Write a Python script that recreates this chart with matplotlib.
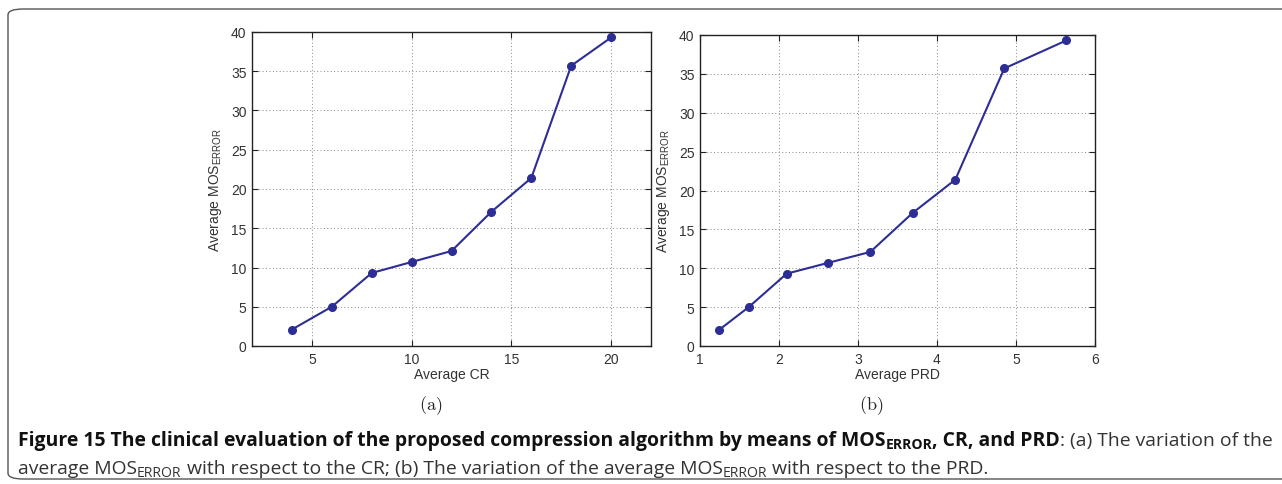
import numpy as np
import matplotlib
matplotlib.use("Agg")
import matplotlib.pyplot as plt
from matplotlib.patches import FancyBboxPatch

# data
cr = [4, 6, 8, 10, 12, 14, 16, 18, 20]
prd = [1.245, 1.616, 2.097, 2.624, 3.156, 3.69, 4.232, 4.852, 5.637]
mos_error = [2.1, 5.0, 9.3, 10.7, 12.1, 17.1, 21.4, 35.7, 39.3]

cr_ticks = [5, 10, 15, 20]
prd_ticks = [1, 2, 3, 4, 5, 6]
y_ticks = [0, 5, 10, 15, 20, 25, 30, 35, 40]

line_color = "#2d2d96"

plt.rcParams['font.family'] = ['Liberation Sans', 'DejaVu Sans']
plt.rcParams['mathtext.fontset'] = 'custom'
plt.rcParams['mathtext.rm'] = 'Liberation Sans'

W, H = 1282, 485
fig = plt.figure(figsize=(W / 100, H / 100), dpi=100)


def box(x0, y0, x1, y1):
    # pixel box (top-left origin) -> figure fraction
    return [x0 / W, 1 - y1 / H, (x1 - x0) / W, (y1 - y0) / H]


def style_axes(ax):
    ax.grid(True, linestyle=(0, (1, 2.5)), color="#888888", linewidth=0.7)
    ax.tick_params(direction="in", top=True, right=True, labelsize=10,
                   length=4, width=0.8, pad=4, labelcolor="#333333",
                   color="#222222")
    for s in ax.spines.values():
        s.set_linewidth(1.0)
        s.set_color("#222222")
    ax.set_ylim(0, 40)
    ax.set_yticks(y_ticks)
    ax.set_ylabel("Average MOS$_{\\mathrm{ERROR}}$", fontsize=10, labelpad=5,
                  color="#333333")


ax1 = fig.add_axes(box(252, 33, 651, 347))
ax1.plot(cr, mos_error, "-o", color=line_color, lw=1.5, ms=5.5)
ax1.set_xlim(2, 22)
ax1.set_xticks(cr_ticks)
ax1.set_xlabel("Average CR", fontsize=10, labelpad=1, color="#333333")
style_axes(ax1)

ax2 = fig.add_axes(box(700, 36, 1095, 347))
ax2.plot(prd, mos_error, "-o", color=line_color, lw=1.5, ms=5.5)
ax2.set_xlim(1, 6)
ax2.set_xticks(prd_ticks)
ax2.set_xlabel("Average PRD", fontsize=10, labelpad=1, color="#333333")
style_axes(ax2)

# sub-figure labels (LaTeX look)
fig.text(431 / W, 1 - 406 / H, r"$\mathrm{(a)}$", ha="center", va="center",
         fontsize=13, math_fontfamily="cm", color="#222222")
fig.text(871 / W, 1 - 406 / H, r"$\mathrm{(b)}$", ha="center", va="center",
         fontsize=13, math_fontfamily="cm", color="#222222")

# rounded frame around the figure
frame = FancyBboxPatch((8 / W, 5 / H), 1.1, (H - 15) / H,
                       boxstyle="round,pad=0,rounding_size=0.012",
                       transform=fig.transFigure, fill=False,
                       edgecolor="#555555", linewidth=1.0, clip_on=False)
fig.patches.append(frame)

# caption, written piece by piece
cap_font = ['Open Sans', 'DejaVu Sans']
renderer = fig.canvas.get_renderer()


def write_line(pieces, x, y, size):
    for txt, bold, sub in pieces:
        fs = size * 0.72 if sub else size
        yy = y + 3.5 if sub else y
        t = fig.text(x / W, 1 - yy / H, txt, fontsize=fs, family=cap_font,
                     fontweight="bold" if bold else "normal",
                     ha="left", va="baseline",
                     color="#111111" if bold else "#333333")
        x += t.get_window_extent(renderer).width
    return x


line1 = [
    ("Figure 15 The clinical evaluation of the proposed compression algorithm by means of MOS", True, False),
    ("ERROR", True, True),
    (", CR, and PRD", True, False),
    (": (a) The variation of the", False, False),
]
line2 = [
    ("average MOS", False, False),
    ("ERROR", False, True),
    (" with respect to the CR; (b) The variation of the average MOS", False, False),
    ("ERROR", False, True),
    (" with respect to the PRD.", False, False),
]

# measure first line to fit the width of the reference caption
probe = plt.figure(figsize=(W / 100, H / 100), dpi=100)
pr = probe.canvas.get_renderer()
wsum = 0
for txt, bold, sub in line1:
    t = probe.text(0, 0, txt, fontsize=10 * (0.72 if sub else 1), family=cap_font,
                   fontweight="bold" if bold else "normal")
    wsum += t.get_window_extent(pr).width
plt.close(probe)
cap_size = 10 * (1275 - 18) / wsum

write_line(line1, 18, 446, cap_size)
write_line(line2, 18, 474, cap_size)

fig.savefig("out.png", dpi=100)
